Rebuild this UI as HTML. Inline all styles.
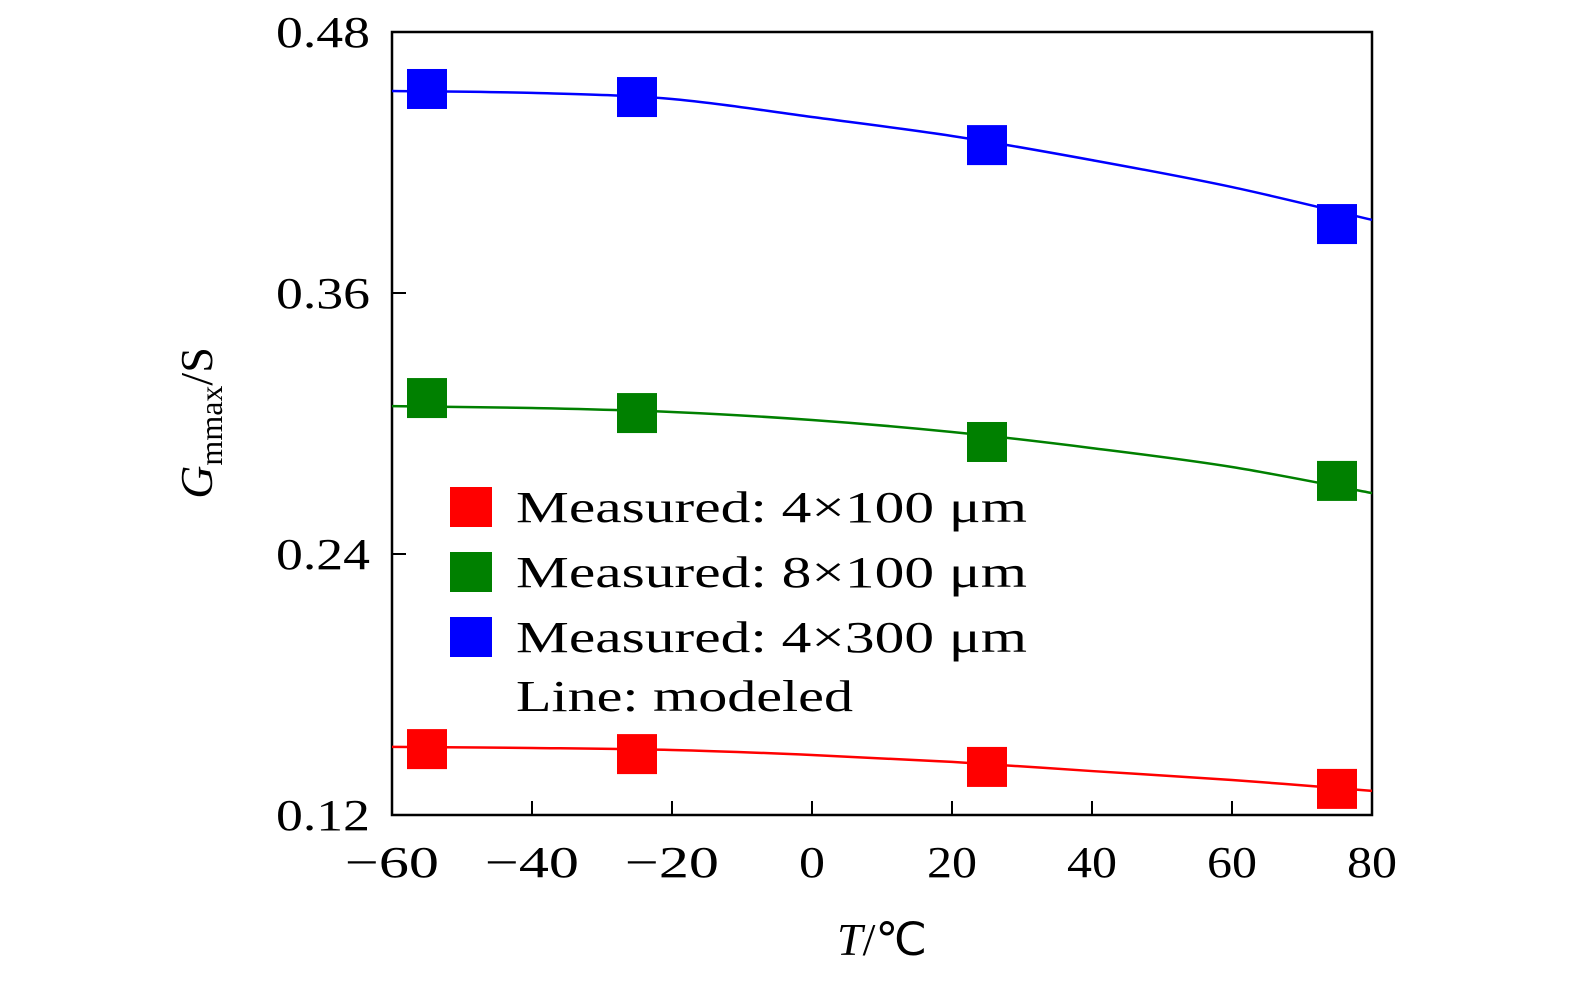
<!DOCTYPE html>
<html><head><meta charset="utf-8"><style>
html,body{margin:0;padding:0;background:#fff;overflow:hidden;width:1575px;height:982px;}
svg{display:block;}
svg text{font-family:"Liberation Serif",serif;fill:#000;}
</style></head><body>
<svg id="chart" width="1575" height="982" viewBox="0 0 1575 982" xmlns="http://www.w3.org/2000/svg">
<g id="axes"></g>
<g id="series"></g>
<g id="legend"></g>
</svg>
<script>
const xTicks=[-60,-40,-20,0,20,40,60,80];
const yTicks=[0.12,0.24,0.36,0.48];
const yTickLabels=["0.12","0.24","0.36","0.48"];
const measuredT=[-55,-25,25,75];
const red=[0.1503,0.1480,0.1421,0.1320];
const green=[0.3117,0.3048,0.2915,0.2736];
const blue=[0.4538,0.4501,0.4280,0.3917];
const modelT=[-60,-40,-20,0,20,40,60,80];
const redModel=[0.1513,0.1508,0.1499,0.1476,0.1444,0.1402,0.1361,0.1311];
const greenModel=[0.3080,0.3071,0.3053,0.3016,0.2961,0.2887,0.2800,0.2680];
const blueModel=[0.4529,0.4520,0.4492,0.4409,0.4322,0.4211,0.4087,0.3936];

const X0=392,X1=1372,Y0=815,Y1=32;
const xs=t=>X0+(t+60)/140*(X1-X0);
const ys=v=>Y0-(v-0.12)/0.36*(Y0-Y1);
const NS="http://www.w3.org/2000/svg";
function mk(tag,attrs,parent){const e=document.createElementNS(NS,tag);for(const k in attrs)e.setAttribute(k,attrs[k]);parent.appendChild(e);return e;}
const axes=document.getElementById('axes'),series=document.getElementById('series'),legend=document.getElementById('legend');

let r=mk('rect',{x:X0,y:Y1,width:X1-X0,height:Y0-Y1,fill:'none',stroke:'#000','stroke-width':2.5},axes);


xTicks.forEach(t=>{
  let l=mk('line',{x1:xs(t),x2:xs(t),y1:Y0,y2:Y0-14,stroke:'#000','stroke-width':2},axes);
  
  
  const s=t<0?'\u2212'+Math.abs(t):String(t);
  const w=t<0?94:(t===0?26:50);
  let tx=mk('text',{x:xs(t),y:877,'font-size':44,'text-anchor':'middle',textLength:w,lengthAdjust:'spacingAndGlyphs'},axes);
  tx.textContent=s;
  
  
});
yTicks.forEach((v,i)=>{
  let l=mk('line',{x1:X0,x2:X0+14,y1:ys(v),y2:ys(v),stroke:'#000','stroke-width':2},axes);
  
  
  let tx=mk('text',{x:370,y:ys(v)+15,'font-size':44,'text-anchor':'end',textLength:94,lengthAdjust:'spacingAndGlyphs'},axes);
  tx.textContent=yTickLabels[i];
  
  
});
let xt=mk('text',{x:882,y:955,'font-size':46,'text-anchor':'middle'},axes);
xt.innerHTML='<tspan font-style="italic">T</tspan>/℃';


let yt=mk('text',{x:0,y:0,'font-size':46,'text-anchor':'middle',transform:'translate(212,423) rotate(-90)'},axes);
yt.innerHTML='<tspan font-style="italic">G</tspan><tspan font-size="32" dy="10">mmax</tspan><tspan dy="-10">/S</tspan>';



function smooth(pts){
  let d='M'+pts[0][0]+','+pts[0][1];
  for(let i=0;i<pts.length-1;i++){
    const p0=pts[Math.max(i-1,0)],p1=pts[i],p2=pts[i+1],p3=pts[Math.min(i+2,pts.length-1)];
    d+=' C'+(p1[0]+(p2[0]-p0[0])/6)+','+(p1[1]+(p2[1]-p0[1])/6)+' '+(p2[0]-(p3[0]-p1[0])/6)+','+(p2[1]-(p3[1]-p1[1])/6)+' '+p2[0]+','+p2[1];
  }
  return d;
}
const sets=[['red',red,redModel,'#ff0000'],['green',green,greenModel,'#008000'],['blue',blue,blueModel,'#0000ff']];
sets.forEach(([n,m,mod,c])=>{
  let p=mk('path',{d:smooth(modelT.map((t,i)=>[xs(t),ys(mod[i])])),fill:'none',stroke:c,'stroke-width':2.5},series);
  
  
  measuredT.forEach((t,i)=>{
    let s=mk('rect',{x:xs(t)-20,y:ys(m[i])-20,width:40,height:40,fill:c},series);
    
    
  });
});
const legTexts=['Measured: 4\u00d7100 μm','Measured: 8\u00d7100 μm','Measured: 4\u00d7300 μm'];
['#ff0000','#008000','#0000ff'].forEach((c,i)=>{
  const y=507+i*65;
  let s=mk('rect',{x:450,y:y-20,width:42,height:40,fill:c},legend);
  
  
  let t=mk('text',{x:516,y:y+15,'font-size':44,textLength:511,lengthAdjust:'spacingAndGlyphs'},legend);
  t.textContent=legTexts[i];
  
  
});
let lt=mk('text',{x:516,y:711,'font-size':44,textLength:337,lengthAdjust:'spacingAndGlyphs'},legend);
lt.textContent='Line: modeled';


</script>
</body></html>
